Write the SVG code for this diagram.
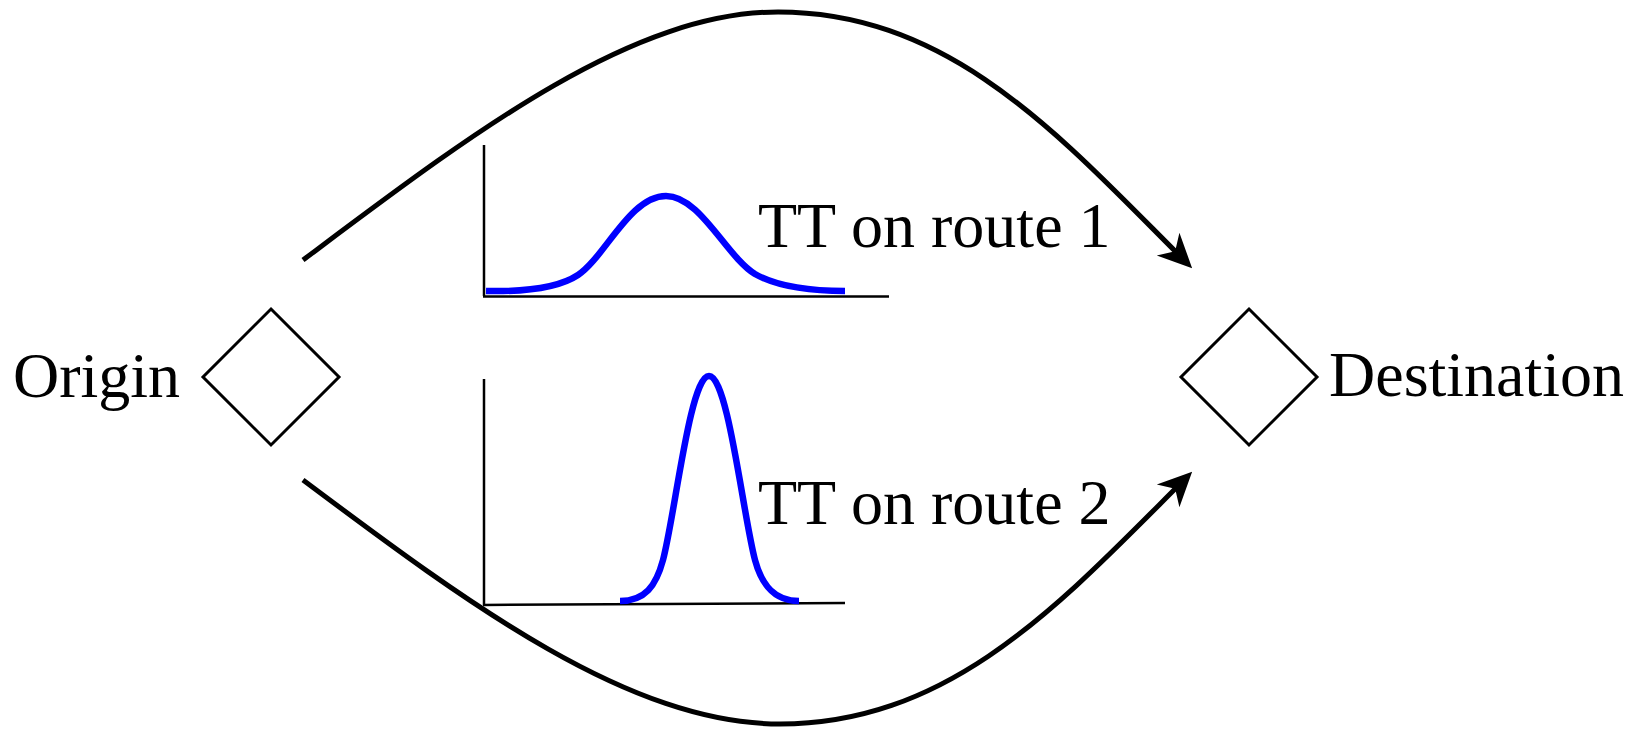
<svg xmlns="http://www.w3.org/2000/svg" width="1643" height="729" viewBox="0 0 1643 729">
  <style>
    .lbl { font-family: "Liberation Serif", "Times New Roman", serif; font-size: 64px; fill: #000; }
    .node { fill: #fff; stroke: #000; stroke-width: 3; }
    .axis { fill: none; stroke: #000; stroke-width: 2.5; }
    .dist { fill: none; stroke: #0000ff; stroke-width: 6.5; }
    .route { fill: none; stroke: #000; stroke-width: 5; }
  </style>
  <defs>
    <marker id="arrow" markerUnits="userSpaceOnUse" markerWidth="60" markerHeight="60" refX="0" refY="0" orient="auto" overflow="visible">
      <path d="M20,0 L-14,-16 L-4,0 L-14,16 Z" fill="#000"/>
    </marker>
  </defs>
  <rect width="1643" height="729" fill="#fff"/>

  <g id="origin">
    <polygon class="node" points="271,309 339,377 271,445 203,377"/>
    <text class="lbl" x="13" y="397">Origin</text>
  </g>

  <g id="destination">
    <polygon class="node" points="1249,309 1317,377 1249,445 1181,377"/>
    <text class="lbl" x="1329" y="396">Destination</text>
  </g>

  <g id="chart-route-1">
    <line class="axis" x1="484" y1="145" x2="484" y2="296"/>
    <line class="axis" x1="483" y1="296.5" x2="889" y2="296.5"/>
    <path class="dist" d="M486,291 C530,292 560,287 578,275 C605,257 630,196 666,196 C700,196 726,256 755,274 C778,287 810,291 845,291"/>
    <text class="lbl" x="758" y="247">TT on route 1</text>
  </g>

  <g id="chart-route-2">
    <line class="axis" x1="484" y1="379" x2="484" y2="605"/>
    <line class="axis" x1="483" y1="605" x2="845" y2="603"/>
    <path class="dist" d="M620,601 C645,601 656,586 663,560 C675,515 690,376 709,376 C728,376 743,515 755,560 C762,586 775,601 799,601"/>
    <text class="lbl" x="758" y="524">TT on route 2</text>
  </g>

  <g id="connectors">
    <path class="route" marker-end="url(#arrow)" d="M303,260 C470,135 630,12 778,12 C950,12 1060,136 1178,254"/>
    <path class="route" marker-end="url(#arrow)" d="M303,480 C470,605 630,724 780,724 C950,724 1060,604 1178,486"/>
  </g>
</svg>
